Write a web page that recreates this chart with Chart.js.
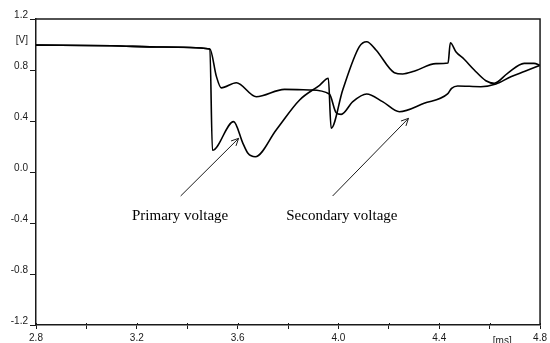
<!DOCTYPE html>
<html>
<head>
<meta charset="utf-8">
<script src="https://cdn.jsdelivr.net/npm/chart.js@4/dist/chart.umd.min.js"></script>
<style>
  html, body { margin: 0; padding: 0; background: #fff; overflow: hidden; }
</style>
</head>
<body>
<canvas id="voltChart" width="550" height="343"></canvas>
<script>
// Time axis [ms] and voltages [V]
const primaryT = [2.8, 3.1, 3.3, 3.49, 3.50, 3.584, 3.621, 3.641, 3.67, 3.753, 3.846, 3.925, 3.96,
  3.971, 4.017, 4.083, 4.112, 4.149, 4.222, 4.255, 4.30, 4.387, 4.435, 4.444, 4.466, 4.499,
  4.539, 4.585, 4.618, 4.671, 4.737, 4.776, 4.8];
const primaryV = [0.995, 0.99, 0.98, 0.965, 0.17, 0.395, 0.225, 0.147, 0.12, 0.33, 0.565, 0.68, 0.735,
  0.343, 0.643, 0.983, 1.022, 0.957, 0.779, 0.769, 0.79, 0.85, 0.855, 1.014, 0.944, 0.884,
  0.80, 0.716, 0.696, 0.774, 0.852, 0.852, 0.837];

const secondaryT = [2.8, 3.1, 3.3, 3.49, 3.516, 3.535, 3.595, 3.674, 3.786, 3.885, 3.964, 3.991,
  4.011, 4.057, 4.112, 4.175, 4.242, 4.34, 4.433, 4.449, 4.473, 4.565, 4.625, 4.684, 4.74, 4.8];
const secondaryV = [0.995, 0.99, 0.98, 0.965, 0.748, 0.66, 0.70, 0.59, 0.648, 0.643, 0.612, 0.465,
  0.452, 0.552, 0.612, 0.552, 0.473, 0.539, 0.612, 0.656, 0.675, 0.669, 0.69, 0.747, 0.79, 0.837];

// Axis ranges and labels
const xMin = 2.8, xMax = 4.8, xStep = 0.2;
const yMin = -1.2, yMax = 1.2, yStep = 0.2;
const xUnit = "[ms]";
const yUnit = "[V]";

// Annotation text with arrow tail/head in data units
const notes = [
  { text: "Primary voltage", tx: 3.181, ty: -0.376, from: [3.374, -0.188], to: [3.604, 0.264] },
  { text: "Secondary voltage", tx: 3.793, ty: -0.376, from: [3.977, -0.188], to: [4.278, 0.421] },
];

const toPoints = (ts, vs) => ts.map((t, i) => ({ x: t, y: vs[i] }));

const ink = "#1a1a1a";
const tickFont = { family: "'Liberation Sans', Arial, sans-serif", size: 10 };

const xLabelled = (v) => Math.round((v - xMin) * 10) % 4 === 0;
const yLabel = (v) => {
  const r = Math.round(v * 10);
  if (r === 10) return yUnit;
  if (r % 4 === 0) return (r / 10).toFixed(1);
  return "";
};

// frame, arrows, texts
const extras = {
  id: "extras",
  afterDraw(chart) {
    const { ctx, chartArea: a, scales: { x, y } } = chart;
    ctx.save();
    ctx.strokeStyle = ink;
    ctx.lineWidth = 1.5;
    ctx.beginPath();
    ctx.moveTo(a.left, a.top);
    ctx.lineTo(a.right, a.top);
    ctx.lineTo(a.right, a.bottom);
    ctx.stroke();

    // x ticks poke a little above the axis too
    ctx.lineWidth = 1;
    ctx.beginPath();
    x.ticks.forEach((t) => {
      const px = Math.round(x.getPixelForValue(t.value)) + 0.5;
      ctx.moveTo(px, a.bottom - 2);
      ctx.lineTo(px, a.bottom);
    });
    ctx.stroke();

    ctx.fillStyle = "#000";
    ctx.font = "15px 'Liberation Serif', 'Times New Roman', serif";
    ctx.textBaseline = "alphabetic";
    notes.forEach((n) => {
      const x0 = x.getPixelForValue(n.from[0]), y0 = y.getPixelForValue(n.from[1]);
      const x1 = x.getPixelForValue(n.to[0]), y1 = y.getPixelForValue(n.to[1]);
      ctx.beginPath();
      ctx.moveTo(x0, y0);
      ctx.lineTo(x1, y1);
      const ang = Math.atan2(y1 - y0, x1 - x0);
      const h = 8;
      ctx.moveTo(x1 - h * Math.cos(ang - 0.45), y1 - h * Math.sin(ang - 0.45));
      ctx.lineTo(x1, y1);
      ctx.lineTo(x1 - h * Math.cos(ang + 0.45), y1 - h * Math.sin(ang + 0.45));
      ctx.stroke();
      ctx.fillText(n.text, x.getPixelForValue(n.tx), y.getPixelForValue(n.ty));
    });

    ctx.font = "10px 'Liberation Sans', Arial, sans-serif";
    ctx.fillStyle = ink;
    ctx.textAlign = "center";
    ctx.textBaseline = "middle";
    ctx.fillText(xUnit, x.getPixelForValue(4.65), a.bottom + 16);
    ctx.restore();
  },
};

const lineStyle = {
  borderColor: "#000",
  borderWidth: 1.6,
  pointRadius: 0,
  fill: false,
  cubicInterpolationMode: "monotone",
};

window.addEventListener("DOMContentLoaded", () => {
  const ctx = document.getElementById("voltChart").getContext("2d");
  new Chart(ctx, {
    type: "line",
    data: {
      datasets: [
        { label: "Primary voltage", data: toPoints(primaryT, primaryV), ...lineStyle },
        { label: "Secondary voltage", data: toPoints(secondaryT, secondaryV), ...lineStyle },
      ],
    },
    plugins: [extras],
    options: {
      responsive: false,
      animation: false,
      layout: { padding: { top: 19, right: 9, left: 0, bottom: 0 } },
      plugins: { legend: { display: false }, tooltip: { enabled: false } },
      scales: {
        x: {
          type: "linear",
          min: xMin,
          max: xMax,
          afterFit: (s) => { s.height = 18; },
          border: { color: ink, width: 1.5 },
          grid: {
            drawOnChartArea: false,
            tickLength: 4,
            tickColor: ink,
          },
          ticks: {
            stepSize: xStep,
            autoSkip: false,
            maxRotation: 0,
            padding: 3,
            color: ink,
            font: tickFont,
            callback: (v) => (xLabelled(v) ? v.toFixed(1) : ""),
          },
        },
        y: {
          type: "linear",
          min: yMin,
          max: yMax,
          afterFit: (s) => { s.width = 36; },
          border: { color: ink, width: 1.5 },
          grid: {
            drawOnChartArea: false,
            tickLength: 6,
            tickColor: (c) => {
              const r = c.tick ? Math.round(c.tick.value * 10) : 1;
              return r % 4 === 0 ? ink : "rgba(0,0,0,0)";
            },
          },
          ticks: {
            stepSize: yStep,
            autoSkip: false,
            padding: 2,
            labelOffset: -4,
            color: ink,
            font: tickFont,
            callback: (v) => yLabel(v),
          },
        },
      },
    },
  });
});
</script>
</body>
</html>
